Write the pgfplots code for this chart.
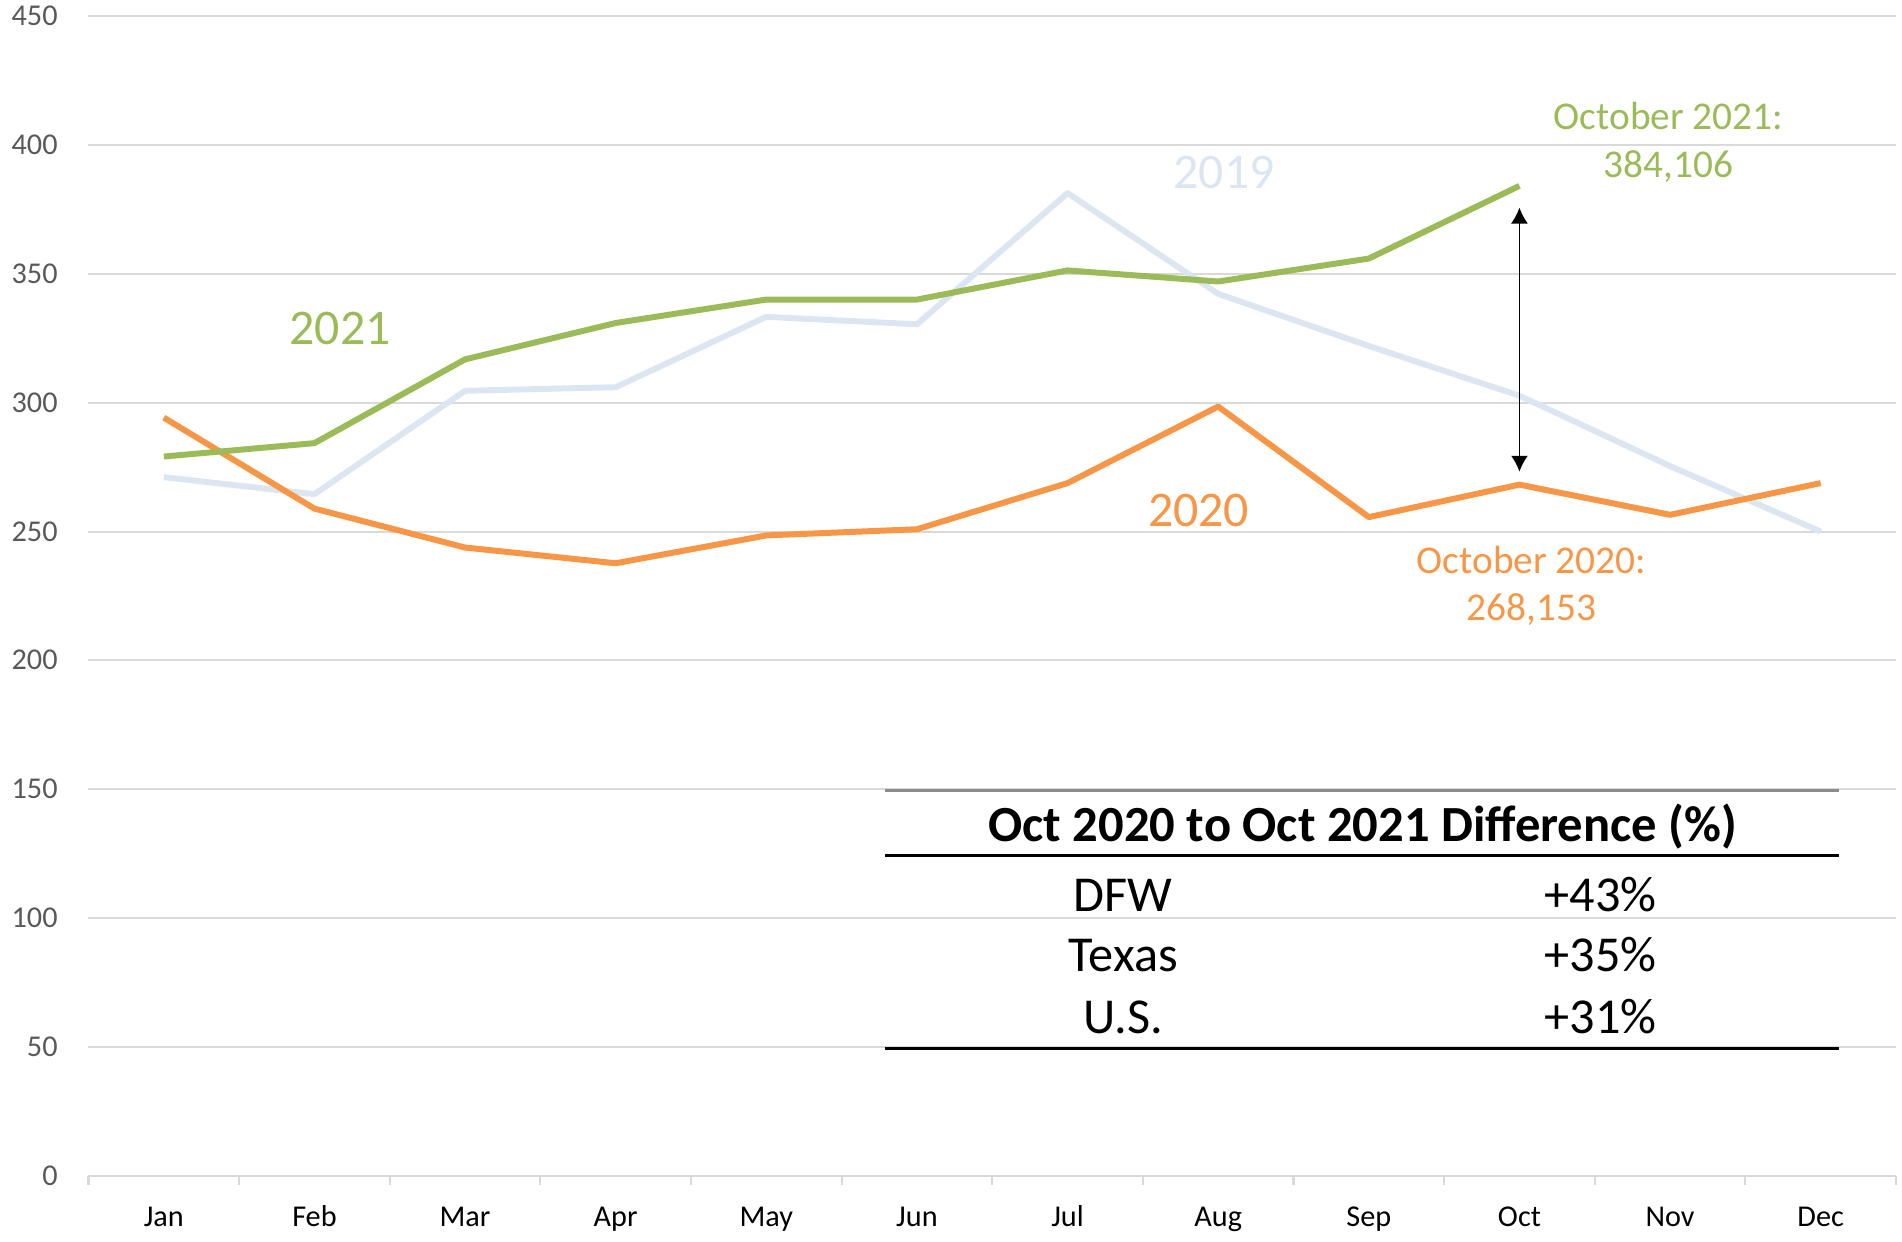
\documentclass[border=0pt]{standalone}
\usepackage{pgfplots}
\pgfplotsset{compat=1.18}
\usepackage{fontspec}
\setmainfont{Carlito}
\usetikzlibrary{arrows.meta,calc}
\definecolor{cgreen}{HTML}{9BBB59}
\definecolor{corange}{HTML}{F79646}
\definecolor{cblue}{HTML}{DCE6F2}
\definecolor{cgrid}{HTML}{D9D9D9}
\definecolor{ctick}{HTML}{595959}
\begin{document}
\begin{tikzpicture}
\begin{axis}[
  name=ax,
  scale only axis,
  width=18.075cm, height=11.6cm,
  xmin=-0.5, xmax=11.5, ymin=0, ymax=450,
  xtick={0,...,11},
  xticklabels={Jan,Feb,Mar,Apr,May,Jun,Jul,Aug,Sep,Oct,Nov,Dec},
  minor xtick={-0.5,0.5,...,11.5},
  ytick={0,50,...,450},
  ymajorgrids,
  major grid style={cgrid, line width=0.55pt},
  axis line style={draw=none},
  major tick length=0pt,
  minor tick length=0.09cm,
  tick align=outside,
  tick pos=left,
  minor tick style={cgrid, line width=0.6pt},
  /pgf/number format/assume math mode=true,
  yticklabel style={font=\fontsize{8.6}{10}\selectfont, text=ctick, anchor=base east, inner sep=0pt, xshift=-0.302cm, yshift=-2.7pt},
  xticklabel style={font=\fontsize{8.6}{10}\selectfont, text=black, anchor=base, inner sep=0pt, yshift=-0.507cm},
  clip=false,
]
\addplot[cblue, line width=1.7pt, line join=round] coordinates {(0,271.1)(1,264.5)(2,304.6)(3,306.0)(4,333.3)(5,330.4)(6,381.3)(7,342.2)(8,322.0)(9,302.7)(10,275.4)(11,250.0)};
\addplot[corange, line width=1.7pt, line join=round] coordinates {(0,294.2)(1,258.9)(2,243.8)(3,237.7)(4,248.5)(5,250.9)(6,268.8)(7,298.5)(8,255.6)(9,268.2)(10,256.5)(11,268.8)};
\addplot[cgreen, line width=1.7pt, line join=round] coordinates {(0,279.1)(1,284.3)(2,316.8)(3,330.9)(4,340.0)(5,340.0)(6,351.3)(7,347.0)(8,355.9)(9,384.1)};

\node[text=cgreen, font=\fontsize{14.2}{16}\selectfont, anchor=base, inner sep=0pt] at (axis cs:1.17,322.7) {2021};
\node[text=cblue, font=\fontsize{14.2}{16}\selectfont, anchor=base, inner sep=0pt] at (axis cs:7.04,383.1) {2019};
\node[text=corange, font=\fontsize{14.2}{16}\selectfont, anchor=base, inner sep=0pt] at (axis cs:6.87,252.0) {2020};

\node[text=cgreen, font=\fontsize{11.2}{13.6}\selectfont, anchor=base, inner sep=0pt] at (axis cs:9.99,405.9) {October 2021:};
\node[text=cgreen, font=\fontsize{11.2}{13.6}\selectfont, anchor=base, inner sep=0pt] at (axis cs:9.99,387.3) {384,106};
\node[text=corange, font=\fontsize{11.2}{13.6}\selectfont, anchor=base, inner sep=0pt] at (axis cs:9.08,233.9) {October 2020:};
\node[text=corange, font=\fontsize{11.2}{13.6}\selectfont, anchor=base, inner sep=0pt] at (axis cs:9.08,215.4) {268,153};

\draw[{Latex[length=0.16cm,width=0.17cm]}-{Latex[length=0.16cm,width=0.17cm]}, line width=0.5pt] (axis cs:9,273.2) -- (axis cs:9,375.7);

\draw[color=black!45, line width=0.85pt] (axis cs:4.79,149.7) -- (axis cs:11.12,149.7);
\draw[black, line width=0.85pt] (axis cs:4.79,124.2) -- (axis cs:11.12,124.2);
\draw[black, line width=0.85pt] (axis cs:4.79,49.5) -- (axis cs:11.12,49.5);
\node[font=\bfseries\fontsize{14.4}{16}\selectfont, anchor=base, inner sep=0pt] at (axis cs:7.96,129.7) {Oct 2020 to Oct 2021 Difference (\%)};
\node[font=\fontsize{14.3}{16}\selectfont, anchor=base, inner sep=0pt] at (axis cs:6.37,102.5) {DFW};
\node[font=\fontsize{14.3}{16}\selectfont, anchor=base, inner sep=0pt] at (axis cs:6.37,79.2) {Texas};
\node[font=\fontsize{14.3}{16}\selectfont, anchor=base, inner sep=0pt] at (axis cs:6.37,55.3) {U.S.};
\node[font=\fontsize{14.3}{16}\selectfont, anchor=base, inner sep=0pt] at (axis cs:9.54,102.5) {+43\%};
\node[font=\fontsize{14.3}{16}\selectfont, anchor=base, inner sep=0pt] at (axis cs:9.54,79.2) {+35\%};
\node[font=\fontsize{14.3}{16}\selectfont, anchor=base, inner sep=0pt] at (axis cs:9.54,55.3) {+31\%};
\end{axis}
\pgfresetboundingbox
\path ($(ax.south west)+(-0.885cm,-0.65cm)$) rectangle ($(ax.north east)+(0.06cm,0.16cm)$);
\end{tikzpicture}
\end{document}
